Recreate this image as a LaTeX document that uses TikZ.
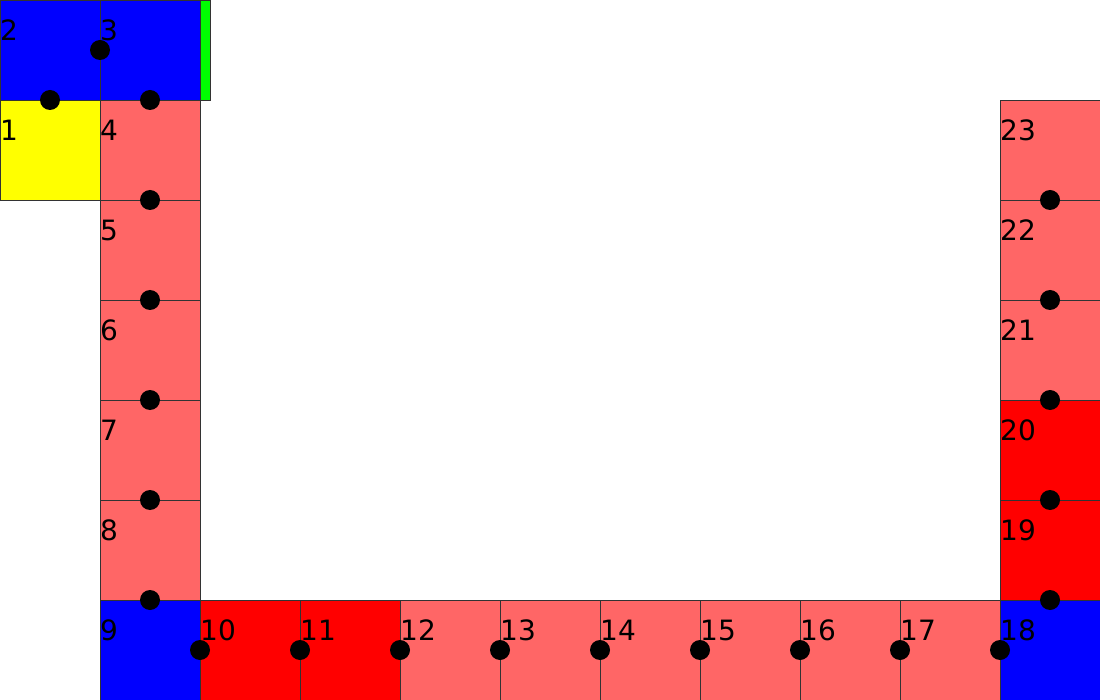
\documentclass[tikz,border=0pt]{standalone}
\usepackage{fontspec}
\setmainfont{DejaVu Sans}
\definecolor{lred}{HTML}{FF6666}
\definecolor{fred}{HTML}{FF0000}
\definecolor{fblue}{HTML}{0000FF}
\definecolor{fyellow}{HTML}{FFFF00}
\definecolor{fgreen}{HTML}{00FF00}
\definecolor{edge}{HTML}{333333}
\begin{document}
\begin{tikzpicture}[x=1pt,y=-1pt,
  sq/.style={draw=edge,line width=0.9pt,minimum width=100pt,minimum height=100pt,inner sep=0pt,outer sep=0pt,anchor=north west},
  num/.style={anchor=base west,inner sep=0pt,font=\fontsize{28}{30}\selectfont},
  dot/.style={circle,fill=black,minimum size=20pt,inner sep=0pt}]
\useasboundingbox (0,0) rectangle (1100,700);
% squares
\node[sq,fill=fyellow] (s1) at (0,100) {};
\node[sq,fill=fblue] (s2) at (0,0) {};
\node[sq,fill=fblue] (s3) at (100,0) {};
\node[draw=edge,line width=0.9pt,fill=fgreen,minimum width=10pt,minimum height=100pt,inner sep=0pt,outer sep=0pt,anchor=north west] (g) at (200,0) {};
\foreach \i/\y in {4/100,5/200,6/300,7/400,8/500}{
  \node[sq,fill=lred] (s\i) at (100,\y) {};
}
\node[sq,fill=fblue] (s9) at (100,600) {};
\node[sq,fill=fred] (s10) at (200,600) {};
\node[sq,fill=fred] (s11) at (300,600) {};
\foreach \i/\x in {12/400,13/500,14/600,15/700,16/800,17/900}{
  \node[sq,fill=lred] (s\i) at (\x,600) {};
}
\node[sq,fill=fblue] (s18) at (1000,600) {};
\node[sq,fill=fred] (s19) at (1000,500) {};
\node[sq,fill=fred] (s20) at (1000,400) {};
\node[sq,fill=lred] (s21) at (1000,300) {};
\node[sq,fill=lred] (s22) at (1000,200) {};
\node[sq,fill=lred] (s23) at (1000,100) {};
% labels
\foreach \i in {1,...,23}{
  \node[num] (t\i) at ([yshift=-40.5pt]s\i.north west) {\i};
}
% dots
\node[dot] (d1) at (50,100) {};
\node[dot] (d2) at (100,50) {};
\foreach \i/\y in {3/100,4/200,5/300,6/400,7/500,8/600}{
  \node[dot] (d\i) at (150,\y) {};
}
\foreach \i/\x in {9/200,10/300,11/400,12/500,13/600,14/700,15/800,16/900,17/1000}{
  \node[dot] (d\i) at (\x,650) {};
}
\foreach \i/\y in {18/600,19/500,20/400,21/300,22/200}{
  \node[dot] (d\i) at (1050,\y) {};
}
\end{tikzpicture}
\end{document}
